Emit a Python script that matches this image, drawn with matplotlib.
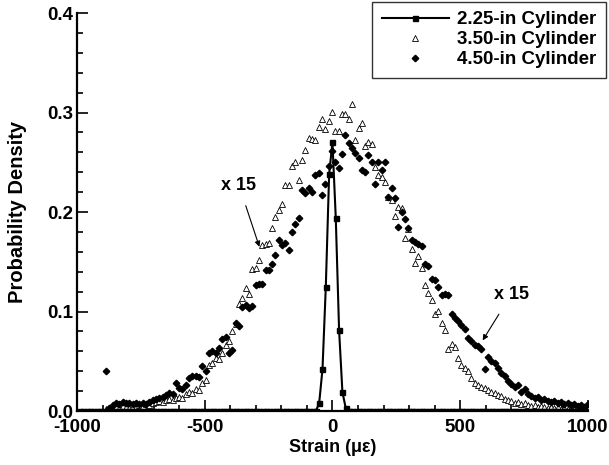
import numpy as np
import matplotlib
matplotlib.use("Agg")
import matplotlib.pyplot as plt
from matplotlib.ticker import MultipleLocator

plt.rcParams["font.family"] = ["Liberation Sans", "DejaVu Sans"]
plt.rcParams["font.weight"] = "bold"
plt.rcParams["axes.unicode_minus"] = False

# 2.25-in cylinder: bins of 13 microstrain, zero outside the central peak
x225 = np.arange(-988, 989, 13)
peak_x = [-52, -39, -26, -13, 0, 13, 26, 39, 52]
peak_y = [0.008, 0.042, 0.125, 0.238, 0.270, 0.194, 0.081, 0.019, 0.003]

# 3.50-in and 4.50-in cylinders (density x 15), bin centres
x_big = np.arange(-886, 1000, 13)
y350 = [0.002, 0.003, 0.002, 0.004, 0.003, 0.005, 0.004, 0.003, 0.005, 0.004,
        0.006, 0.005, 0.007, 0.006, 0.008, 0.009, 0.010, 0.009, 0.011, 0.012,
        0.011, 0.013, 0.014, 0.013, 0.017, 0.019, 0.018, 0.022, 0.021, 0.028,
        0.031, 0.046, 0.048, 0.053, 0.052, 0.058, 0.066, 0.070, 0.080, 0.087,
        0.108, 0.114, 0.124, 0.118, 0.143, 0.144, 0.152, 0.167, 0.168, 0.169,
        0.184, 0.195, 0.202, 0.208, 0.227, 0.227, 0.246, 0.250, 0.232, 0.252,
        0.262, 0.274, 0.273, 0.272, 0.285, 0.293, 0.283, 0.291, 0.301, 0.281,
        0.281, 0.299, 0.299, 0.294, 0.309, 0.272, 0.284, 0.289, 0.266, 0.270,
        0.268, 0.245, 0.237, 0.235, 0.230, 0.215, 0.212, 0.196, 0.205, 0.204,
        0.174, 0.183, 0.163, 0.149, 0.156, 0.144, 0.127, 0.119, 0.112, 0.098,
        0.101, 0.088, 0.081, 0.062, 0.067, 0.064, 0.053, 0.046, 0.043, 0.040,
        0.033, 0.028, 0.026, 0.024, 0.023, 0.021, 0.019, 0.018, 0.016, 0.015,
        0.012, 0.011, 0.010, 0.008, 0.009, 0.007, 0.008, 0.006, 0.005, 0.006,
        0.004, 0.005, 0.004, 0.003, 0.004, 0.003, 0.004, 0.002, 0.003, 0.002,
        0.003, 0.002, 0.003, 0.002, 0.003, 0.002]
y450 = [0.040, 0.003, 0.006, 0.008, 0.007, 0.009, 0.008, 0.008, 0.007, 0.008,
        0.007, 0.008, 0.007, 0.009, 0.011, 0.012, 0.013, 0.014, 0.016, 0.018,
        0.017, 0.028, 0.023, 0.022, 0.026, 0.033, 0.035, 0.035, 0.034, 0.045,
        0.040, 0.058, 0.060, 0.058, 0.063, 0.072, 0.074, 0.058, 0.061, 0.088,
        0.085, 0.105, 0.107, 0.104, 0.106, 0.127, 0.128, 0.128, 0.142, 0.142,
        0.148, 0.157, 0.172, 0.167, 0.169, 0.162, 0.180, 0.188, 0.194, 0.222,
        0.219, 0.224, 0.220, 0.237, 0.239, 0.217, 0.228, 0.246, 0.261, 0.250,
        0.244, 0.258, 0.277, 0.269, 0.264, 0.259, 0.254, 0.242, 0.240, 0.257,
        0.250, 0.228, 0.250, 0.242, 0.250, 0.215, 0.224, 0.214, 0.185, 0.200,
        0.193, 0.184, 0.172, 0.170, 0.168, 0.166, 0.148, 0.146, 0.133, 0.132,
        0.125, 0.117, 0.118, 0.117, 0.098, 0.094, 0.091, 0.086, 0.082, 0.073,
        0.070, 0.066, 0.065, 0.062, 0.042, 0.054, 0.050, 0.048, 0.043, 0.038,
        0.035, 0.030, 0.027, 0.024, 0.026, 0.019, 0.022, 0.017, 0.015, 0.013,
        0.014, 0.011, 0.012, 0.010, 0.009, 0.010, 0.008, 0.009, 0.007, 0.008,
        0.006, 0.007, 0.005, 0.006, 0.004, 0.007]

y225 = np.zeros(len(x225))
for px, py in zip(peak_x, peak_y):
    y225[x225 == px] = py

fig = plt.figure(figsize=(6.09, 4.65), dpi=100)
ax = fig.add_axes([0.1264, 0.116, 0.839, 0.856])

ax.plot(x_big, y350, linestyle="none", marker="^", markersize=4.8,
        markerfacecolor="white", markeredgecolor="black", markeredgewidth=0.6,
        label="3.50-in Cylinder", zorder=3)
ax.plot(x_big, y450, linestyle="none", marker="D", markersize=3.3,
        color="black", label="4.50-in Cylinder", zorder=3)
ax.plot(x225, y225, color="black", linewidth=1.5, marker="s", markersize=3.6,
        label="2.25-in Cylinder", zorder=4)

ax.set_xlim(-1000, 1000)
ax.set_ylim(0, 0.4)
ax.xaxis.set_major_locator(MultipleLocator(500))
ax.xaxis.set_minor_locator(MultipleLocator(100))
ax.yaxis.set_major_locator(MultipleLocator(0.1))
ax.yaxis.set_minor_locator(MultipleLocator(0.02))
ax.yaxis.set_major_formatter(plt.FormatStrFormatter("%.1f"))
ax.tick_params(which="both", direction="in", width=1.2)
ax.tick_params(which="major", length=8, labelsize=13.5)
ax.tick_params(axis="x", which="major", pad=6)
ax.tick_params(axis="y", which="major", pad=3)
ax.tick_params(which="minor", length=4.5)
for lab in ax.get_xticklabels() + ax.get_yticklabels():
    lab.set_fontweight("bold")

for side in ["top", "right"]:
    ax.spines[side].set_visible(False)
for side in ["left", "bottom"]:
    ax.spines[side].set_linewidth(1.6)

ax.set_xlabel("Strain (με)", fontsize=13, fontweight="bold", labelpad=2)
ax.set_ylabel("Probability Density", fontsize=14.5, fontweight="bold", labelpad=14)

ax.annotate("x 15", xy=(-286, 0.165), xytext=(-366, 0.227),
            fontsize=13, fontweight="bold", ha="center", va="center",
            arrowprops=dict(arrowstyle="-|>", color="black", lw=0.8,
                            mutation_scale=8, shrinkA=7, shrinkB=0))
ax.annotate("x 15", xy=(588, 0.071), xytext=(699, 0.117),
            fontsize=13, fontweight="bold", ha="center", va="center",
            arrowprops=dict(arrowstyle="-|>", color="black", lw=0.8,
                            mutation_scale=8, shrinkA=7, shrinkB=0))

handles, labels = ax.get_legend_handles_labels()
order = [2, 0, 1]
leg = ax.legend([handles[i] for i in order], [labels[i] for i in order],
                loc="upper right", bbox_to_anchor=(1.035, 1.028),
                prop={"weight": "bold", "size": 13.5}, frameon=True,
                fancybox=False, edgecolor="black", handlelength=3.6,
                borderpad=0.5, labelspacing=0.15, handletextpad=0.43,
                borderaxespad=0)
leg.get_frame().set_linewidth(1.0)

fig.savefig("out.png", dpi=100)
